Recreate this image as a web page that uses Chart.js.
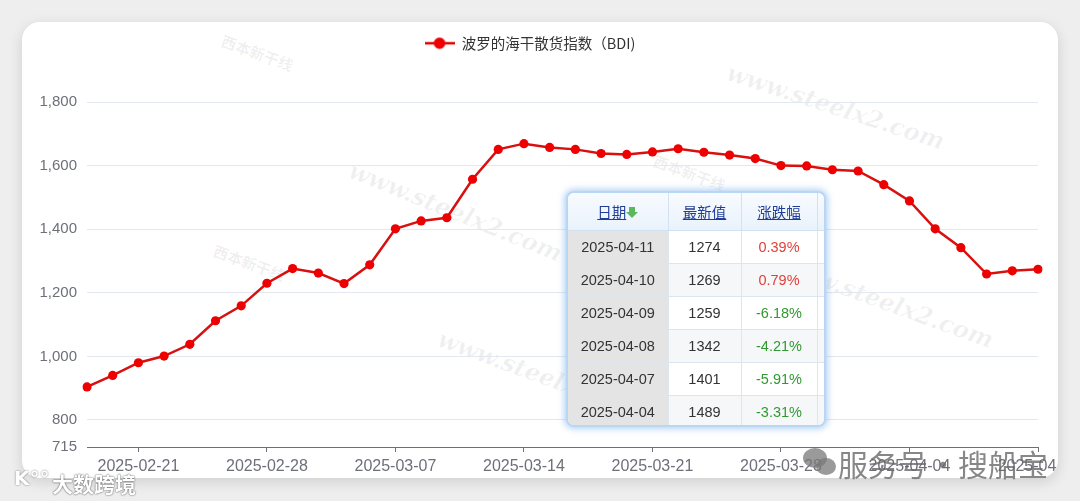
<!DOCTYPE html>
<html>
<head>
<meta charset="utf-8">
<script src="https://cdn.jsdelivr.net/npm/chart.js@4.4.1/dist/chart.umd.min.js"></script>
<style>
html,body{margin:0;padding:0;width:1080px;height:501px;overflow:hidden;background:#eeeeee;font-family:"Liberation Sans","Noto Sans CJK SC",sans-serif;}
#card{position:absolute;left:22px;top:22px;width:1036px;height:456px;background:#fff;border-radius:18px;box-shadow:0 4px 14px rgba(0,0,0,0.13);overflow:hidden;}
#wrap{position:absolute;left:0;top:0;width:1080px;height:456px;}
.wm{position:absolute;font:italic bold 24px "DejaVu Serif",serif;color:rgba(0,0,0,0.06);white-space:nowrap;transform-origin:center;}
.wl{position:absolute;font:bold 15px "Noto Sans CJK SC",sans-serif;color:rgba(0,0,0,0.07);white-space:nowrap;}
#tbl{position:absolute;left:566px;top:191px;width:256px;height:232px;border:2px solid #b9d6f3;border-radius:8px;box-shadow:0 0 6px 2px rgba(120,175,235,0.55);overflow:hidden;background:#fff;}
#tbl table{border-collapse:collapse;width:258px;table-layout:fixed;font-size:14.5px;font-family:"Liberation Sans",sans-serif;}
#tbl th{height:37px;padding:0;background:linear-gradient(#f8fbff,#e9f2fb);color:#1f3d96;font-weight:normal;font-family:"Noto Sans CJK SC",sans-serif;font-size:14.5px;border-right:1px solid #d3e2f1;border-bottom:1px solid #d3e2f1;}
#tbl th span.u{text-decoration:underline;}
#tbl td{height:32px;padding:0;text-align:center;border-right:1px solid #dde5ee;border-bottom:1px solid #dde5ee;color:#333;background:#fff;}
#tbl td.d{background:#e4e4e4;}
#tbl tr:nth-child(odd) td.v,#tbl tr:nth-child(odd) td.c{background:#f5f7f9;}
#tbl td.up{color:#e0413b;}
#tbl td.dn{color:#2f9a2f;}
.arr{display:inline-block;position:relative;width:12px;height:12px;vertical-align:-1px;}
.arr:before{content:"";position:absolute;left:3px;top:0;width:6px;height:5px;background:#5cb85c;}
.arr:after{content:"";position:absolute;left:0;top:5px;border-left:6px solid transparent;border-right:6px solid transparent;border-top:6px solid #5cb85c;}
#svc{position:absolute;left:838px;top:441px;font:30px "Noto Sans CJK SC",sans-serif;color:rgba(105,105,105,0.8);white-space:nowrap;}
.bub{position:absolute;border-radius:50%;background:rgba(120,120,120,0.75);}
#dsk{position:absolute;left:52px;top:468px;font:bold 21px "Noto Sans CJK SC",sans-serif;color:#fff;text-shadow:0 0 2px rgba(0,0,0,0.55),0 0 1px rgba(0,0,0,0.5);white-space:nowrap;}
#dlogo{position:absolute;left:14px;top:466px;font:bold 20px "DejaVu Sans",sans-serif;color:#fff;text-shadow:0 0 2px rgba(0,0,0,0.55);}
</style>
</head>
<body>
<div id="card">
  <div class="wm" style="left:320px;top:175px;transform:rotate(22deg);">www.steelx2.com</div>
  <div class="wm" style="left:700px;top:70px;transform:rotate(18deg);">www.steelx2.com</div>
  <div class="wm" style="left:410px;top:340px;transform:rotate(20deg);">www.steelx2.com</div>
  <div class="wm" style="left:750px;top:265px;transform:rotate(20deg);">www.steelx2.com</div>
  <div class="wl" style="left:198px;top:20px;transform:rotate(20deg);">西本新干线</div>
  <div class="wl" style="left:190px;top:230px;transform:rotate(20deg);">西本新干线</div>
  <div class="wl" style="left:630px;top:140px;transform:rotate(20deg);">西本新干线</div>
  <div id="wrap"><canvas id="c" width="1080" height="456"></canvas></div>
</div>
<div id="tbl"></div>
<div class="bub" style="left:803px;top:448px;width:24px;height:20px;"></div>
<div class="bub" style="left:816px;top:458px;width:20px;height:17px;"></div>
<div id="svc">服务号·搜船宝</div>
<div id="dlogo">K°°</div>
<div id="dsk">大数跨境</div>
<script>
// ---- data ----
const dates = [
  "2025-02-19","2025-02-20","2025-02-21",
  "2025-02-24","2025-02-25","2025-02-26","2025-02-27","2025-02-28",
  "2025-03-03","2025-03-04","2025-03-05","2025-03-06","2025-03-07",
  "2025-03-10","2025-03-11","2025-03-12","2025-03-13","2025-03-14",
  "2025-03-17","2025-03-18","2025-03-19","2025-03-20","2025-03-21",
  "2025-03-24","2025-03-25","2025-03-26","2025-03-27","2025-03-28",
  "2025-03-31","2025-04-01","2025-04-02","2025-04-03","2025-04-04",
  "2025-04-07","2025-04-08","2025-04-09","2025-04-10","2025-04-11"
];
const bdi = [
  904, 940, 980,
  1001, 1038, 1112, 1159, 1230,
  1276, 1262, 1229, 1288, 1401,
  1426, 1436, 1557, 1651, 1669,
  1657, 1651, 1638, 1635, 1643,
  1653, 1642, 1633, 1622, 1600,
  1599, 1587, 1583, 1540, 1489,
  1401, 1342, 1259, 1269, 1274
];
const xTickLabels = ["2025-02-21","2025-02-28","2025-03-07","2025-03-14","2025-03-21","2025-03-28","2025-04-04","2025-04-11"];
const yTickValues = [715, 800, 1000, 1200, 1400, 1600, 1800];
const seriesName = "波罗的海干散货指数（BDI)";
const tableHeaders = ["日期", "最新值", "涨跌幅"];
const tableDates = ["2025-04-11","2025-04-10","2025-04-09","2025-04-08","2025-04-07","2025-04-04"];
const tableValues = [1274, 1269, 1259, 1342, 1401, 1489];
const tableChanges = ["0.39%","0.79%","-6.18%","-4.21%","-5.91%","-3.31%"];

// ---- table ----
(function(){
  let h = '<table><colgroup><col style="width:100px"><col style="width:73px"><col style="width:76px"><col style="width:9px"></colgroup>';
  h += '<tr><th><span class="u">'+tableHeaders[0]+'</span><span class="arr"></span></th><th><span class="u">'+tableHeaders[1]+'</span></th><th><span class="u">'+tableHeaders[2]+'</span></th><th></th></tr>';
  for (let i=0;i<tableDates.length;i++){
    const cls = tableChanges[i].charAt(0)==='-' ? 'dn' : 'up';
    h += '<tr><td class="d">'+tableDates[i]+'</td><td class="v">'+tableValues[i]+'</td><td class="c '+cls+'">'+tableChanges[i]+'</td><td class="c"></td></tr>';
  }
  h += '</table>';
  document.getElementById('tbl').innerHTML = h;
})();

// ---- legend icon ----
const icon = document.createElement('canvas');
icon.width = 30; icon.height = 14;
(function(){
  const g = icon.getContext('2d');
  g.strokeStyle = '#e00000'; g.lineWidth = 2.5;
  g.beginPath(); g.moveTo(0,7); g.lineTo(30,7); g.stroke();
  g.fillStyle = '#ee0000';
  g.beginPath(); g.arc(15,7,5.8,0,Math.PI*2); g.fill();
})();

const AXIS = '#6e7079';
const chart = new Chart(document.getElementById('c'), {
  type: 'line',
  data: {
    labels: dates,
    datasets: [{
      label: seriesName,
      data: bdi,
      borderColor: '#d81010',
      borderWidth: 2.5,
      pointRadius: 4.6,
      pointBackgroundColor: '#ee0000',
      pointBorderColor: '#ee0000',
      pointBorderWidth: 0,
      tension: 0,
      fill: false
    }]
  },
  options: {
    responsive: false,
    devicePixelRatio: 1,
    animation: false,
    layout: { padding: { left: 0, right: 64, top: 2, bottom: 0 } },
    plugins: {
      tooltip: { enabled: false },
      legend: {
        display: true,
        position: 'top',
        labels: {
          usePointStyle: true,
          pointStyleWidth: 30,
          boxHeight: 14,
          padding: 12,
          color: '#333',
          font: { size: 14.5, family: '"Noto Sans CJK SC","Liberation Sans",sans-serif' },
          generateLabels: (c) => {
            const items = Chart.defaults.plugins.legend.labels.generateLabels(c);
            items.forEach(it => { it.pointStyle = icon; });
            return items;
          }
        }
      }
    },
    scales: {
      x: {
        type: 'category',
        offset: false,
        border: { display: true, color: AXIS, width: 1 },
        grid: {
          drawOnChartArea: false,
          drawTicks: true,
          tickLength: 5,
          tickColor: (ctx) => (ctx.tick && xTickLabels.includes(ctx.tick.label)) ? AXIS : 'rgba(0,0,0,0)'
        },
        ticks: {
          autoSkip: false,
          maxRotation: 0,
          minRotation: 0,
          padding: 5,
          color: AXIS,
          font: { size: 16, family: '"Liberation Sans",sans-serif' },
          callback: function(v, i) {
            const l = this.getLabelForValue(v);
            return xTickLabels.includes(l) ? l : '';
          }
        },
        afterFit: (s) => { s.height = 31; }
      },
      y: {
        type: 'linear',
        min: 715,
        max: 1900,
        border: { display: false },
        grid: {
          drawTicks: false,
          color: (ctx) => (ctx.tick && ctx.tick.value === 715) ? 'rgba(0,0,0,0)' : '#e3e7ef',
          lineWidth: 1
        },
        ticks: {
          padding: 10,
          color: AXIS,
          font: { size: 15, family: '"Liberation Sans",sans-serif' },
          callback: (v) => Number(v).toLocaleString('en-US')
        },
        afterBuildTicks: (s) => { s.ticks = yTickValues.map(v => ({ value: v })); },
        afterFit: (s) => { s.width = 65; }
      }
    }
  }
});
// calibrate top of value axis so 1,800 sits at its reference height
(function(){
  const a = chart.chartArea;
  const y1800 = 80;
  chart.options.scales.y.max = 715 + (1800 - 715) * (a.bottom - a.top) / (a.bottom - y1800);
  chart.update('none');
})();
</script>
</body>
</html>
